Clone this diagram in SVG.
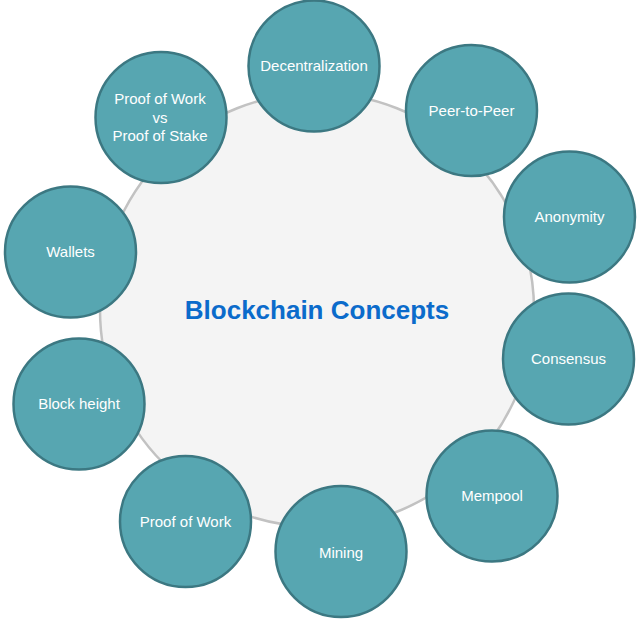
<svg xmlns="http://www.w3.org/2000/svg" width="640" height="619" viewBox="0 0 640 619">
<style>
.hub{fill:#f4f4f4;stroke:#c2c2c2;stroke-width:2.5}
.n circle{fill:#57a6b1;stroke:#3c7882;stroke-width:2.5}
.n text{fill:#ffffff;font-family:"Liberation Sans",Arial,sans-serif;font-size:15px;text-anchor:middle}
.title{fill:#0b6bcb;font-family:"Liberation Sans",Arial,sans-serif;font-size:26px;font-weight:bold;text-anchor:middle}
</style>
<rect width="640" height="619" fill="#ffffff"/>
<g id="connectors"></g>
<g id="hub">
<circle class="hub" cx="317" cy="310" r="217"/>
<text class="title" x="317" y="319">Blockchain Concepts</text>
</g>
<g id="decentralization" class="n"><circle cx="314" cy="66" r="65.5"/><text x="314" y="71">Decentralization</text></g>
<g id="peer-to-peer" class="n"><circle cx="471.5" cy="110.5" r="65.5"/><text x="471.5" y="115.5">Peer-to-Peer</text></g>
<g id="anonymity" class="n"><circle cx="569.5" cy="217" r="65.5"/><text x="569.5" y="222">Anonymity</text></g>
<g id="consensus" class="n"><circle cx="568.5" cy="359" r="65.5"/><text x="568.5" y="364">Consensus</text></g>
<g id="mempool" class="n"><circle cx="492" cy="496" r="65.5"/><text x="492" y="501">Mempool</text></g>
<g id="mining" class="n"><circle cx="341" cy="551.5" r="65.5"/><text x="341" y="558">Mining</text></g>
<g id="proof-of-work" class="n"><circle cx="185.5" cy="521.5" r="65.5"/><text x="185.5" y="527">Proof of Work</text></g>
<g id="block-height" class="n"><circle cx="79" cy="404" r="65.5"/><text x="79" y="409">Block height</text></g>
<g id="wallets" class="n"><circle cx="70.5" cy="252" r="65.5"/><text x="70.5" y="257">Wallets</text></g>
<g id="pow-vs-pos" class="n"><circle cx="161" cy="117.5" r="65.5"/><text x="160" y="104">Proof of Work</text><text x="160" y="123">vs</text><text x="160" y="141">Proof of Stake</text></g>
</svg>
